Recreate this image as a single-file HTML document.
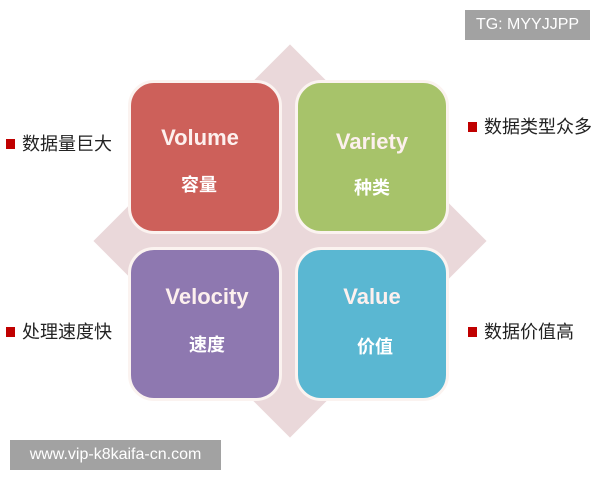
<!DOCTYPE html>
<html><head><meta charset="utf-8"><style>
html,body{margin:0;padding:0;width:600px;height:480px;background:#fff;overflow:hidden;position:relative;font-family:"Liberation Sans","Noto Sans CJK SC",sans-serif}
.dia{position:absolute;left:151px;top:102px;width:278px;height:278px;background:#ead8da;transform:rotate(45deg)}
.b{position:absolute;width:148px;height:148px;border:3px solid #fbf3f0;border-radius:26px;color:#fff;font-weight:bold;text-align:center}
.b .t{position:absolute;width:100%;font-size:22px;color:#fdf0ee}
.b .c{position:absolute;width:100%;font-size:18px}
.lab{position:absolute;font-size:18px;color:#222;white-space:nowrap}
.lab i{display:inline-block;width:9px;height:10px;background:#c00000;margin-right:7px;vertical-align:1px}
.wm{position:absolute;background:#a2a2a2;color:#fff;font-size:16px}
</style></head><body>
<div class="dia"></div>
<div class="b" style="left:128px;top:80px;background:#cd605a"><div class="t" style="top:42px;left:-5px">Volume</div><div class="c" style="top:88px;left:-6px">容量</div></div>
<div class="b" style="left:295px;top:80px;background:#a7c36a"><div class="t" style="top:46px">Variety</div><div class="c" style="top:91px">种类</div></div>
<div class="b" style="left:128px;top:247px;background:#8e78b0"><div class="t" style="top:34px;left:2px">Velocity</div><div class="c" style="top:81px;left:2px">速度</div></div>
<div class="b" style="left:295px;top:247px;background:#5ab7d2"><div class="t" style="top:34px">Value</div><div class="c" style="top:83px;left:3px">价值</div></div>
<div class="lab" style="left:6px;top:130px"><i></i>数据量巨大</div>
<div class="lab" style="left:468px;top:113px"><i></i>数据类型众多</div>
<div class="lab" style="left:6px;top:318px"><i></i>处理速度快</div>
<div class="lab" style="left:468px;top:318px"><i></i>数据价值高</div>
<div class="wm" style="left:465px;top:10px;width:125px;height:30px;line-height:30px;text-align:center">TG: MYYJJPP</div>
<div class="wm" style="left:10px;top:440px;width:211px;height:30px;line-height:30px;text-align:center">www.vip-k8kaifa-cn.com</div>
</body></html>
